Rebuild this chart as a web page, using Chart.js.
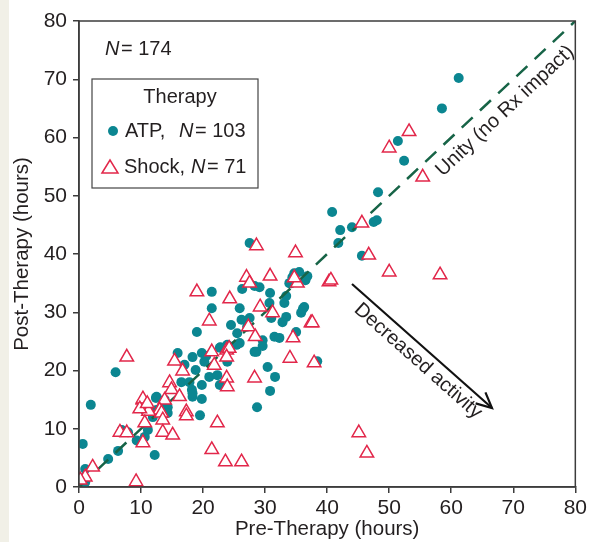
<!DOCTYPE html>
<html>
<head>
<meta charset="utf-8">
<script src="https://cdn.jsdelivr.net/npm/chart.js@4"></script>
<style>
  html, body { margin: 0; padding: 0; background: #fff; }
  #wrap { width: 590px; height: 542px; position: relative; }
</style>
</head>
<body>
<div id="wrap"><canvas id="scatter" width="590" height="542"></canvas></div>
<script>
// ATP points (teal circles)
const atpX = [61.2, 58.5, 51.4, 52.4, 48.2, 40.8, 42.1, 44, 47.5, 48, 41.8, 45.6,
  34.7, 35.5, 36.8, 33.9, 34.4, 34.2, 33.4, 33.1, 36.3, 35.8, 33.4, 32.8, 36.1, 35,
  27.5, 21.4, 21.4, 25.9, 26.3, 28.3, 29.1, 30.8, 30.7, 26.2, 27.5, 27.1, 25.5, 31.5, 32.3, 29.6, 25.9, 29.6, 23.9, 22.8,
  19, 15.9, 18.3, 19.8, 20.2, 22.7, 25.4, 18.8, 21, 22.3, 16.5, 17.8, 19.8, 22.7, 18.2, 18.3, 19.8, 12.4, 14.3, 12.5, 28.7, 19.5, 28.3, 23.9, 18.3,
  30.4, 31.6, 30.8, 38.4, 28.6,
  1.9, 0.6, 4.7, 6.3, 7.9, 6.9, 9.3, 12.2, 12.5, 13.8, 11.9, 14.3, 1, 0.5, 11.1, 10.6, 5.9, 1,
  20.5, 24.5, 13.5, 17, 31, 36.5, 10.6];
const atpY = [70.2, 65, 59.4, 56, 50.6, 47.2, 44.1, 44.6, 45.5, 45.8, 41.9, 39.7,
  36.7, 36.9, 36.2, 35, 36, 35, 32.8, 31.6, 30.9, 29.9, 29.2, 28.3, 30.6, 26.6,
  41.9, 33.5, 30.7, 30.7, 34, 34.5, 34.3, 33.3, 31.6, 28.7, 29, 27.5, 26.4, 25.8, 25.6, 25.2, 24.7, 24.2, 24.4, 24,
  26.6, 23, 22.3, 23, 21.5, 23.9, 24.4, 20.1, 18.9, 19.2, 18, 18, 17.5, 17.5, 16.7, 15.5, 15.1, 15.3, 13.7, 13.2, 13.7, 12.3, 23.2, 21.5, 16.1,
  20.6, 18.9, 16.5, 21.6, 23.2,
  14.1, 7.4, 4.8, 6.2, 9.4, 9.8, 8, 5.5, 15.5, 15, 12, 12.7, 3.1, 1.5, 9.8, 8.6, 19.7, 0.8,
  22.5, 27.8, 14.2, 21, 29, 35.5, 13.2];

// Shock points (red open triangles)
const shockX = [53.2, 50, 55.4, 45.6, 46.7, 45.1, 46.4, 50, 58.2,
  34.9, 40.3, 40.6, 37.4, 35.2, 34.7,
  28.6, 27, 27.5, 30.8, 24.3, 29.2, 31.2, 21, 37.6, 27.3, 28.4, 34.5, 19,
  15.4, 16.7, 14.6, 14.9, 16.2, 21.4, 21.8, 23.8, 24.2, 23.8, 23.8, 23.9, 28.3, 13.8, 10.3, 10.9, 17.3, 17.3, 22.3, 13, 11.2,
  34, 37.9, 26.2, 23.6, 21.4,
  2.2, 1, 0.2, 6.6, 7.7, 10.3, 9.2, 10.3, 9.8, 11, 13.3, 13.5, 13.5, 15.1, 10.6, 7.7];
const shockY = [61, 58.2, 53.2, 45.3, 39.8, 9.3, 5.8, 36.9, 36.4,
  40.2, 35.2, 35.5, 28.2, 35, 35.9,
  41.4, 36, 35, 36.2, 32.3, 30.9, 29.9, 28.5, 28.2, 27.5, 25.8, 25.6, 33.5,
  21.6, 19.9, 17.9, 16.7, 15.5, 23.2, 20.9, 23.5, 23.8, 22.3, 18.7, 17.2, 18.7, 14.9, 14.9, 13.7, 12.9, 12.2, 11, 13.2, 13,
  22.1, 21.3, 4.3, 4.3, 6.4,
  3.4, 1.7, 1.2, 9.4, 9.3, 7.6, 0.9, 15.1, 13.4, 14.3, 12.7, 11.5, 9.4, 8.9, 11, 22.3];

const axisTicks = [0, 10, 20, 30, 40, 50, 60, 70, 80];
const unityLine = [0, 80];

const teal = '#0b8691';
const red = '#e2274a';
const ink = '#231f20';
const FONT = '"Liberation Sans", Arial, sans-serif';

const toPts = (xs, ys) => xs.map((x, i) => ({ x: x, y: ys[i] }));

// frame, legend box and text annotations
const extras = {
  id: 'extras',
  beforeDraw(chart) {
    const c = chart.ctx;
    c.save();
    c.fillStyle = '#f1f0e7';
    c.fillRect(0, 0, 9, chart.height);
    c.restore();
  },
  afterDraw(chart) {
    const c = chart.ctx;
    const a = chart.chartArea;
    const xs = chart.scales.x, ys = chart.scales.y;
    c.save();
    c.strokeStyle = '#3c3c3c';
    c.lineWidth = 1.5;
    c.strokeRect(a.left, a.top, a.right - a.left, a.bottom - a.top);

    c.fillStyle = ink;
    c.textBaseline = 'middle';
    // N = 174
    c.font = 'italic 20px ' + FONT;
    c.fillText('N', 105, 49);
    c.font = '20px ' + FONT;
    c.fillText('= 174', 121, 49);

    // legend box
    c.strokeStyle = '#444';
    c.lineWidth = 1.2;
    c.strokeRect(92, 79, 166, 109);
    c.textAlign = 'center';
    c.fillText('Therapy', 180, 97);
    c.textAlign = 'left';
    c.fillStyle = teal;
    c.beginPath();
    c.arc(113, 131, 5, 0, Math.PI * 2);
    c.fill();
    c.fillStyle = ink;
    c.fillText('ATP,', 125, 131);
    c.font = 'italic 20px ' + FONT;
    c.fillText('N', 179, 131);
    c.font = '20px ' + FONT;
    c.fillText('= 103', 195, 131);
    c.strokeStyle = red;
    c.lineWidth = 1.5;
    c.beginPath();
    c.moveTo(102, 173);
    c.lineTo(110, 160);
    c.lineTo(118, 173);
    c.closePath();
    c.stroke();
    c.fillText('Shock,', 124, 167);
    c.font = 'italic 20px ' + FONT;
    c.fillText('N', 191, 167);
    c.font = '20px ' + FONT;
    c.fillText('= 71', 207, 167);

    // unity label
    const ang = Math.atan2(ys.getPixelForValue(0) - ys.getPixelForValue(80),
                           xs.getPixelForValue(80) - xs.getPixelForValue(0));
    c.save();
    c.translate(505, 111);
    c.rotate(-ang);
    c.textAlign = 'center';
    c.fillText('Unity (no Rx impact)', 0, 0);
    c.restore();

    // decreased activity arrow
    const x1 = 352, y1 = 284, x2 = 492, y2 = 408;
    c.strokeStyle = '#111';
    c.lineWidth = 2.2;
    c.beginPath();
    c.moveTo(x1, y1);
    c.lineTo(x2, y2);
    c.stroke();
    const t = Math.atan2(y2 - y1, x2 - x1);
    c.beginPath();
    c.moveTo(x2 - 17 * Math.cos(t - 0.45), y2 - 17 * Math.sin(t - 0.45));
    c.lineTo(x2, y2);
    c.lineTo(x2 - 17 * Math.cos(t + 0.45), y2 - 17 * Math.sin(t + 0.45));
    c.stroke();
    c.save();
    c.translate(418, 361);
    c.rotate(t);
    c.textAlign = 'center';
    c.fillStyle = ink;
    c.fillText('Decreased activity', 0, 0);
    c.restore();
    c.restore();
  }
};

const axis = (title, pos) => ({
  type: 'linear',
  position: pos,
  min: 0,
  max: 80,
  afterBuildTicks: s => { s.ticks = axisTicks.map(v => ({ value: v })); },
  ticks: { color: ink, font: { family: FONT, size: 21 }, padding: pos === 'left' ? 6 : 3 },
  grid: { drawOnChartArea: false, tickLength: 6, color: '#3c3c3c', lineWidth: 1.5 },
  border: { color: '#3c3c3c', width: 1.5 },
  title: { display: true, text: title, color: ink, font: { family: FONT, size: 20.5 },
           padding: pos === 'left' ? { top: 10, bottom: 0 } : { top: 0, bottom: 0 } }
});

const xAxis = axis('Pre-Therapy (hours)', 'bottom');
xAxis.afterFit = s => { s.height = 55; };
const yAxis = axis('Post-Therapy (hours)', 'left');
yAxis.afterFit = s => { s.width = 79; };

new Chart(document.getElementById('scatter'), {
  type: 'scatter',
  data: {
    datasets: [
      {
        label: 'Shock',
        data: toPts(shockX, shockY),
        pointStyle: 'triangle',
        pointRadius: 7.8,
        borderColor: red,
        backgroundColor: '#fff',
        borderWidth: 1.5,
        order: 0
      },
      {
        type: 'line',
        label: 'Unity',
        data: toPts(unityLine, unityLine),
        borderColor: '#176447',
        borderWidth: 2.5,
        borderDash: [15, 10],
        pointRadius: 0,
        fill: false,
        order: 1
      },
      {
        label: 'ATP',
        data: toPts(atpX, atpY),
        pointStyle: 'circle',
        pointRadius: 5,
        borderWidth: 0,
        backgroundColor: teal,
        order: 2
      }
    ]
  },
  options: {
    responsive: false,
    animation: false,
    layout: { padding: { left: 0, right: 13, top: 21, bottom: 0 } },
    plugins: { legend: { display: false }, tooltip: { enabled: false } },
    scales: { x: xAxis, y: yAxis }
  },
  plugins: [extras]
});
</script>
</body>
</html>
